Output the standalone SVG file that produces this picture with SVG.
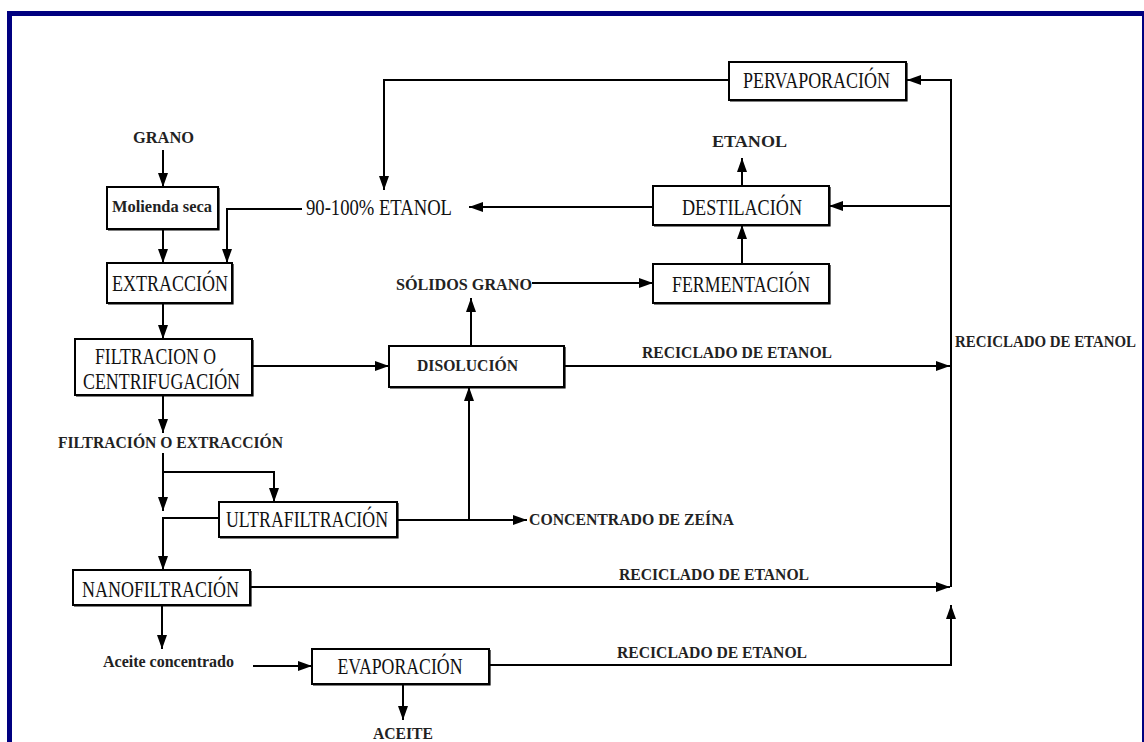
<svg xmlns="http://www.w3.org/2000/svg" width="1144" height="742" viewBox="0 0 1144 742">
  <defs>
    <marker id="ah" markerUnits="userSpaceOnUse" markerWidth="14" markerHeight="10" refX="14" refY="5" orient="auto">
      <path d="M0,0 L14,5 L0,10 z" fill="#000"/>
    </marker>
    <style>
      .box { fill: #fff; stroke: #000; stroke-width: 2; }
      .shadow { fill: none; stroke: #000; stroke-width: 1.2; }
      .t { font-family: "Liberation Serif", "Times New Roman", serif; font-size: 23px; fill: #111; }
      .s { font-family: "Liberation Serif", "Times New Roman", serif; font-size: 16px; font-weight: bold; fill: #222; }
      .ln { fill: none; stroke: #000; stroke-width: 2; }
      .arr { marker-end: url(#ah); }
      .frame { fill: #000080; }
    </style>
  </defs>

  <rect width="1144" height="742" fill="#fff"/>

  <!-- navy frame -->
  <g id="frame">
    <rect class="frame" x="7" y="11" width="1137" height="5"/>
    <rect class="frame" x="7" y="11" width="5" height="731"/>
    <rect class="frame" x="1142" y="11" width="2" height="731"/>
  </g>

  <!-- connectors -->
  <g id="connectors">
    <path class="ln arr" d="M163,150 V187"/>
    <path class="ln arr" d="M163,229 V263"/>
    <path class="ln arr" d="M302,209 H227 V263"/>
    <path class="ln arr" d="M163,303 V339"/>
    <path class="ln arr" d="M252,366 H389"/>
    <path class="ln arr" d="M163,395 V433"/>
    <path class="ln arr" d="M163,453 V511"/>
    <path class="ln arr" d="M163,472 H274 V502"/>
    <path class="ln arr" d="M219,518 H163 V570"/>
    <path class="ln arr" d="M397,520 H527"/>
    <path class="ln arr" d="M469,520 V387"/>
    <path class="ln arr" d="M471,346 V298"/>
    <path class="ln arr" d="M532,283 H653"/>
    <path class="ln arr" d="M742,264 V225"/>
    <path class="ln arr" d="M742,186 V158"/>
    <path class="ln arr" d="M653,207 H469"/>
    <path class="ln arr" d="M729,80 H384 V190"/>
    <path class="ln arr" d="M564,366 H950"/>
    <path class="ln arr" d="M250,587 H950"/>
    <path class="ln arr" d="M489,665 H951 V605"/>
    <path class="ln arr" d="M951,587 V80 H907"/>
    <path class="ln arr" d="M951,206 H829"/>
    <path class="ln arr" d="M162,605 V649"/>
    <path class="ln arr" d="M253,666 H312"/>
    <path class="ln arr" d="M403,684 V720"/>
  </g>

  <!-- process nodes -->
  <g id="grano">
    <text class="s" x="163.5" y="143" text-anchor="middle" textLength="61" lengthAdjust="spacingAndGlyphs">GRANO</text>
  </g>

  <g id="molienda">
    <rect class="box" x="107" y="187" width="111" height="42"/>
    <path class="shadow" d="M108,230 H219 V188"/>
    <text class="s" x="162" y="212" text-anchor="middle" textLength="100" lengthAdjust="spacingAndGlyphs">Molienda seca</text>
  </g>

  <g id="extraccion">
    <rect class="box" x="107" y="263" width="125" height="40"/>
    <path class="shadow" d="M108,304 H233 V264"/>
    <text class="t" x="170" y="291" text-anchor="middle" textLength="116" lengthAdjust="spacingAndGlyphs">EXTRACCIÓN</text>
  </g>

  <g id="filtracion">
    <rect class="box" x="75" y="339" width="177" height="56"/>
    <path class="shadow" d="M76,396 H253 V340"/>
    <text class="t" x="155.5" y="364" font-size="22" text-anchor="middle" textLength="121" lengthAdjust="spacingAndGlyphs">FILTRACION O</text>
    <text class="t" x="161.5" y="389" font-size="22" text-anchor="middle" textLength="157" lengthAdjust="spacingAndGlyphs">CENTRIFUGACIÓN</text>
  </g>

  <g id="filtracion-extraccion">
    <text class="s" x="170.5" y="448" text-anchor="middle" textLength="225" lengthAdjust="spacingAndGlyphs">FILTRACIÓN O EXTRACCIÓN</text>
  </g>

  <g id="ultrafiltracion">
    <rect class="box" x="219" y="502" width="178" height="35"/>
    <path class="shadow" d="M220,538 H398 V503"/>
    <text class="t" x="307" y="527" text-anchor="middle" textLength="162" lengthAdjust="spacingAndGlyphs">ULTRAFILTRACIÓN</text>
  </g>

  <g id="concentrado-zeina">
    <text class="s" x="529" y="525" textLength="205" lengthAdjust="spacingAndGlyphs">CONCENTRADO DE ZEÍNA</text>
  </g>

  <g id="nanofiltracion">
    <rect class="box" x="73" y="570" width="177" height="35"/>
    <path class="shadow" d="M74,606 H251 V571"/>
    <text class="t" x="160.5" y="597" text-anchor="middle" textLength="157" lengthAdjust="spacingAndGlyphs">NANOFILTRACIÓN</text>
  </g>

  <g id="aceite-concentrado">
    <text class="s" x="168.5" y="667" text-anchor="middle" textLength="131" lengthAdjust="spacingAndGlyphs">Aceite concentrado</text>
  </g>

  <g id="evaporacion">
    <rect class="box" x="312" y="649" width="177" height="35"/>
    <path class="shadow" d="M313,685 H490 V650"/>
    <text class="t" x="400" y="674" text-anchor="middle" textLength="125" lengthAdjust="spacingAndGlyphs">EVAPORACIÓN</text>
  </g>

  <g id="aceite">
    <text class="s" x="403" y="739" text-anchor="middle" textLength="60" lengthAdjust="spacingAndGlyphs">ACEITE</text>
  </g>

  <g id="disolucion">
    <rect class="box" x="389" y="346" width="175" height="41"/>
    <path class="shadow" d="M390,388 H565 V347"/>
    <text class="s" x="467.5" y="371" text-anchor="middle" textLength="101" lengthAdjust="spacingAndGlyphs">DISOLUCIÓN</text>
  </g>

  <g id="solidos-grano">
    <text class="s" x="464" y="290" text-anchor="middle" textLength="136" lengthAdjust="spacingAndGlyphs">SÓLIDOS GRANO</text>
  </g>

  <g id="fermentacion">
    <rect class="box" x="653" y="264" width="176" height="39"/>
    <path class="shadow" d="M654,304 H830 V265"/>
    <text class="t" x="741" y="292" text-anchor="middle" textLength="138" lengthAdjust="spacingAndGlyphs">FERMENTACIÓN</text>
  </g>

  <g id="destilacion">
    <rect class="box" x="653" y="186" width="176" height="39"/>
    <path class="shadow" d="M654,226 H830 V187"/>
    <text class="t" x="742" y="215" text-anchor="middle" textLength="120" lengthAdjust="spacingAndGlyphs">DESTILACIÓN</text>
  </g>

  <g id="etanol">
    <text class="s" x="749.5" y="147" text-anchor="middle" font-size="21" textLength="75" lengthAdjust="spacingAndGlyphs">ETANOL</text>
  </g>

  <g id="pervaporacion">
    <rect class="box" x="729" y="62" width="177" height="38"/>
    <path class="shadow" d="M730,101 H907 V63"/>
    <text class="t" x="816.5" y="88" text-anchor="middle" textLength="147" lengthAdjust="spacingAndGlyphs">PERVAPORACIÓN</text>
  </g>

  <g id="etanol-90">
    <text class="t" x="306" y="215" textLength="146" lengthAdjust="spacingAndGlyphs">90-100% ETANOL</text>
  </g>

  <!-- recycle stream labels -->
  <g id="reciclado">
    <text class="s" x="642" y="358" textLength="190" lengthAdjust="spacingAndGlyphs">RECICLADO DE ETANOL</text>
    <text class="s" x="619" y="580" textLength="190" lengthAdjust="spacingAndGlyphs">RECICLADO DE ETANOL</text>
    <text class="s" x="617" y="658" textLength="190" lengthAdjust="spacingAndGlyphs">RECICLADO DE ETANOL</text>
    <text class="s" x="955" y="347" font-size="15" textLength="181" lengthAdjust="spacingAndGlyphs">RECICLADO DE ETANOL</text>
  </g>
</svg>
